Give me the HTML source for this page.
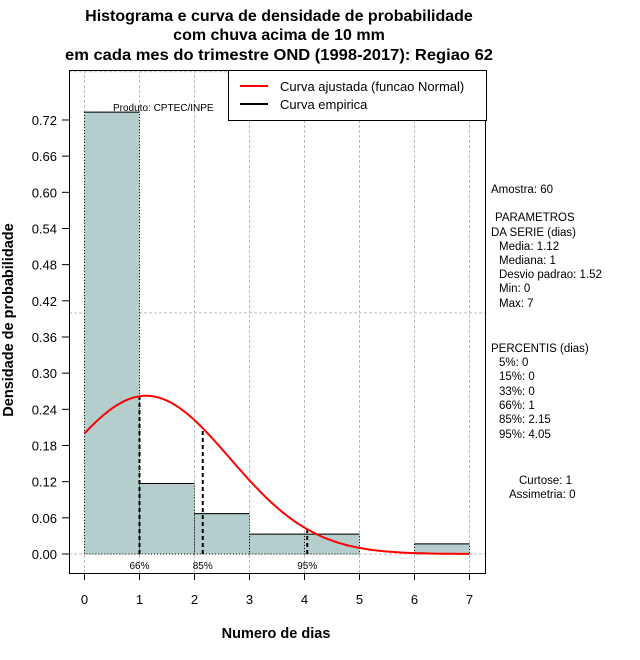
<!DOCTYPE html>
<html><head><meta charset="utf-8"><style>
html,body{margin:0;padding:0;background:#fff}
svg{display:block;font-family:"Liberation Sans",sans-serif}
</style></head><body>
<svg id="chart" width="640" height="660" viewBox="0 0 640 660">
<g font-weight="bold" font-size="16" text-anchor="middle">
<text x="279" y="21">Histograma e curva de densidade de probabilidade</text>
<text x="279" y="40">com chuva acima de 10 mm</text>
<text x="279" y="60" textLength="428" lengthAdjust="spacingAndGlyphs">em cada mes do trimestre OND (1998-2017): Regiao 62</text>
</g>
<g id="grid"></g>
<g id="bars"></g>
<g id="pct"></g>
<path id="curve" fill="none" stroke="#ff0000" stroke-width="2"/>
<rect x="69.5" y="70.5" width="416" height="503" fill="none" stroke="#000"/>
<g id="axes" font-size="13"></g>
<text x="113" y="111" font-size="10">Produto: CPTEC/INPE</text>
<text transform="translate(13,320) rotate(-90)" text-anchor="middle" font-size="14.5" font-weight="bold">Densidade de probabilidade</text>
<text x="276" y="638" text-anchor="middle" font-size="14.5" font-weight="bold">Numero de dias</text>
<g>
<rect x="228.5" y="70.5" width="258" height="50" fill="#fff" stroke="#000"/>
<line x1="240" y1="86" x2="268" y2="86" stroke="#ff0000" stroke-width="2"/>
<line x1="240" y1="104" x2="268" y2="104" stroke="#000" stroke-width="2"/>
<text x="280" y="91" font-size="13">Curva ajustada (funcao Normal)</text>
<text x="280" y="109" font-size="13">Curva empirica</text>
</g>
<g font-size="11.5">
<text x="491" y="193">Amostra: 60</text>
<text x="495" y="221">PARAMETROS</text>
<text x="491" y="236">DA SERIE (dias)</text>
<text x="499" y="250">Media: 1.12</text>
<text x="499" y="264">Mediana: 1</text>
<text x="499" y="278">Desvio padrao: 1.52</text>
<text x="499" y="292">Min: 0</text>
<text x="499" y="307">Max: 7</text>
<text x="491" y="352">PERCENTIS (dias)</text>
<text x="499" y="366">5%: 0</text>
<text x="499" y="380">15%: 0</text>
<text x="499" y="395">33%: 0</text>
<text x="499" y="409">66%: 1</text>
<text x="499" y="423">85%: 2.15</text>
<text x="499" y="438">95%: 4.05</text>
<text x="519" y="484">Curtose: 1</text>
<text x="509" y="498">Assimetria: 0</text>
</g>
</svg>
<script>
const binStarts=[0,1,2,3,4,5,6];
const binDensity=[0.733,0.117,0.067,0.033,0.033,0,0.0167];
const yTicks=[0,0.06,0.12,0.18,0.24,0.30,0.36,0.42,0.48,0.54,0.60,0.66,0.72];
const xTicks=[0,1,2,3,4,5,6,7];
const gridY=[0,0.4,0.8];
const pctValues=[1,2.15,4.05];
const pctLabels=["66%","85%","95%"];
const normParams=[1.12,1.52];
const NS="http://www.w3.org/2000/svg";
const X=v=>84.5+v*55;
const Y=v=>554-v*602.8;
function mk(t,a,p){const e=document.createElementNS(NS,t);for(const k in a)e.setAttribute(k,a[k]);p.appendChild(e);return e;}
const grid=document.getElementById('grid');
xTicks.forEach(v=>{const l=mk('line',{x1:X(v),x2:X(v),y1:70,y2:573,stroke:'#bbb','stroke-dasharray':'3,2'},grid);

});
gridY.forEach(v=>{const l=mk('line',{x1:69,x2:486,y1:Y(v),y2:Y(v),stroke:'#bbb','stroke-dasharray':'3,2'},grid);

});
const bars=document.getElementById('bars');
binStarts.forEach((s,i)=>{const d=binDensity[i];
const r=mk('rect',{x:X(s),y:Y(d),width:X(s+1)-X(s),height:Y(0)-Y(d),fill:d>0?'#b4cdcd':'none',stroke:'#000','stroke-dasharray':'1,2'},bars);


if(d>0){const t=mk('line',{x1:X(s),x2:X(s+1),y1:Y(d),y2:Y(d),stroke:'#000'},bars);

}});
const dens=x=>Math.exp(-0.5*Math.pow((x-normParams[0])/normParams[1],2))/(normParams[1]*Math.sqrt(2*Math.PI));
let d='';for(let i=0;i<=140;i++){const x=i*7/140;d+=(i?'L':'M')+X(x).toFixed(1)+','+Y(dens(x)).toFixed(1);}
document.getElementById('curve').setAttribute('d',d);
const pct=document.getElementById('pct');
pctValues.forEach((v,i)=>{const l=mk('line',{x1:X(v),x2:X(v),y1:Y(0),y2:Y(dens(v)),stroke:'#000','stroke-width':2,'stroke-dasharray':'4,3'},pct);


const t=mk('text',{x:X(v),y:569,'font-size':10,'text-anchor':'middle'},pct);t.textContent=pctLabels[i];

});
const ax=document.getElementById('axes');
yTicks.forEach(v=>{const l=mk('line',{x1:62,x2:69,y1:Y(v),y2:Y(v),stroke:'#000'},ax);


const t=mk('text',{x:57,y:Y(v)+5,'text-anchor':'end'},ax);t.textContent=v.toFixed(2);

});
xTicks.forEach(v=>{const l=mk('line',{x1:X(v),x2:X(v),y1:573,y2:580,stroke:'#000'},ax);


const t=mk('text',{x:X(v),y:604,'text-anchor':'middle'},ax);t.textContent=v;

});
</script>
</body></html>
